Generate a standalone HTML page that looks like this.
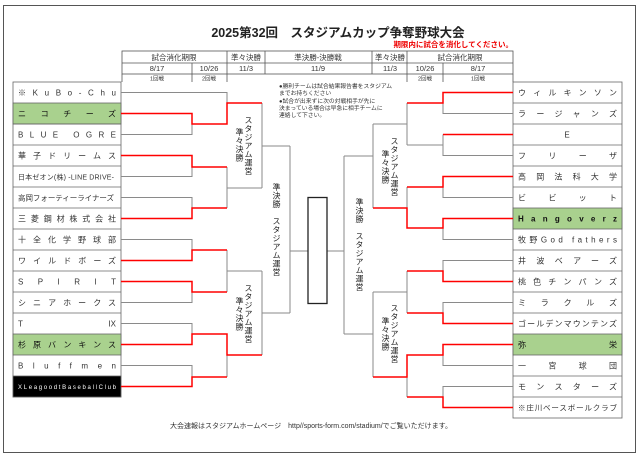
<!DOCTYPE html>
<html><head><meta charset="utf-8">
<style>
html,body{margin:0;padding:0;background:#fff;}
body{width:640px;height:458px;overflow:hidden;position:relative;font-family:"Liberation Sans","Noto Sans CJK JP",sans-serif;}
svg{position:absolute;left:0;top:0;}
.v{position:absolute;writing-mode:vertical-rl;font-size:8px;line-height:9px;color:#222;letter-spacing:0.5px;}
</style></head><body>
<svg width="640" height="458" viewBox="0 0 640 458" font-family="Liberation Sans, Noto Sans CJK JP, sans-serif">
<rect x="3.5" y="5.5" width="632" height="447" fill="none" stroke="#555" stroke-width="1"/>
<text x="338" y="37" font-size="12.5" font-weight="bold" text-anchor="middle" fill="#222">2025第32回　スタジアムカップ争奪野球大会</text>
<text x="513" y="47" font-size="7.5" font-weight="bold" text-anchor="end" fill="#e00">期限内に試合を消化してください。</text>
<g stroke="#555" stroke-width="0.8" fill="none">
<rect x="122" y="51" width="391" height="23"/>
<line x1="122" y1="63" x2="513" y2="63"/>
<line x1="122" y1="74" x2="122" y2="82"/><line x1="227" y1="74" x2="227" y2="82"/>
<line x1="407" y1="74" x2="407" y2="82"/><line x1="513" y1="74" x2="513" y2="82"/>
<line x1="227" y1="51" x2="227" y2="74"/><line x1="265" y1="51" x2="265" y2="74"/>
<line x1="372" y1="51" x2="372" y2="74"/><line x1="407" y1="51" x2="407" y2="74"/>
<line x1="192" y1="63" x2="192" y2="82"/><line x1="443" y1="63" x2="443" y2="82"/>
</g>
<g font-size="7.5" fill="#333" text-anchor="middle">
<text x="174" y="60">試合消化期限</text><text x="246" y="60">準々決勝</text><text x="318" y="60">準決勝-決勝戦</text><text x="390" y="60">準々決勝</text><text x="460" y="60">試合消化期限</text>
<text x="157" y="71">8/17</text><text x="209" y="71">10/26</text><text x="246" y="71">11/3</text><text x="318" y="71">11/9</text><text x="390" y="71">11/3</text><text x="425" y="71">10/26</text><text x="478" y="71">8/17</text>
</g>
<g font-size="5.5" fill="#333" text-anchor="middle">
<text x="157" y="80.5">1回戦</text><text x="209" y="80.5">2回戦</text><text x="425" y="80.5">2回戦</text><text x="478" y="80.5">1回戦</text>
</g>
<g font-size="5.8" fill="#333">
<text x="279" y="88">●勝利チームは試合結果報告書をスタジアム</text>
<text x="279" y="95">までお持ちください</text>
<text x="279" y="103">●試合が出来ずに次の対戦相手が先に</text>
<text x="279" y="110">決まっている場合は早急に相手チームに</text>
<text x="279" y="117">連絡して下さい。</text>
</g>
<g stroke="#666" stroke-width="0.8">
<rect x="13" y="82" width="108" height="315" fill="#fff"/>
<rect x="13" y="103" width="108" height="21" fill="#a9d18e"/>
<rect x="13" y="334" width="108" height="21" fill="#a9d18e"/>
<rect x="13" y="376" width="108" height="21" fill="#000"/>
<line x1="13" y1="124" x2="121" y2="124"/><line x1="13" y1="145" x2="121" y2="145"/><line x1="13" y1="166" x2="121" y2="166"/><line x1="13" y1="187" x2="121" y2="187"/><line x1="13" y1="208" x2="121" y2="208"/><line x1="13" y1="229" x2="121" y2="229"/><line x1="13" y1="250" x2="121" y2="250"/><line x1="13" y1="271" x2="121" y2="271"/><line x1="13" y1="292" x2="121" y2="292"/><line x1="13" y1="313" x2="121" y2="313"/>
</g>
<g stroke="#666" stroke-width="0.8">
<rect x="513" y="82" width="109" height="336" fill="#fff"/>
<rect x="513" y="208" width="109" height="21" fill="#a9d18e"/>
<rect x="513" y="334" width="109" height="21" fill="#a9d18e"/>
<line x1="513" y1="103" x2="622" y2="103"/><line x1="513" y1="124" x2="622" y2="124"/><line x1="513" y1="145" x2="622" y2="145"/><line x1="513" y1="166" x2="622" y2="166"/><line x1="513" y1="187" x2="622" y2="187"/><line x1="513" y1="250" x2="622" y2="250"/><line x1="513" y1="271" x2="622" y2="271"/><line x1="513" y1="292" x2="622" y2="292"/><line x1="513" y1="313" x2="622" y2="313"/><line x1="513" y1="376" x2="622" y2="376"/><line x1="513" y1="397" x2="622" y2="397"/>
</g>
<g font-size="8" fill="#333">
<text x="18" y="95.5" textLength="98" lengthAdjust="spacing">※KuBo-Chu</text>
<text x="18" y="116.5" textLength="98" lengthAdjust="spacing" fill="#111">ニコチーズ</text>
<text x="18" y="137.5" textLength="98" lengthAdjust="spacing">BLUE OGRE</text>
<text x="18" y="158.5" textLength="98" lengthAdjust="spacing">華子ドリームス</text>
<text x="18" y="179.5" font-size="7" textLength="96" lengthAdjust="spacing">日本ゼオン(株) -LINE DRIVE-</text>
<text x="18" y="200.5" font-size="7.5" textLength="96" lengthAdjust="spacing">高岡フォーティーライナーズ</text>
<text x="18" y="221.5" textLength="98" lengthAdjust="spacing">三菱鋼材株式会社</text>
<text x="18" y="242.5" textLength="98" lengthAdjust="spacing">十全化学野球部</text>
<text x="18" y="263.5" textLength="98" lengthAdjust="spacing">ワイルドボーズ</text>
<text x="18" y="284.5" textLength="98" lengthAdjust="spacing">SPIRIT</text>
<text x="18" y="305.5" textLength="98" lengthAdjust="spacing">シニアホークス</text>
<text x="18" y="326.5">T</text><text x="116" y="326.5" text-anchor="end">IX</text>
<text x="18" y="347.5" textLength="98" lengthAdjust="spacing" fill="#111">杉原バンキンス</text>
<text x="18" y="368.5" textLength="98" lengthAdjust="spacing">Bluffmen</text>
<text x="18" y="389" font-size="6" textLength="98" lengthAdjust="spacing" fill="#fff">XLeagoodtBaseballClub</text>
</g>
<g font-size="8" fill="#333">
<text x="518" y="95.5" textLength="99" lengthAdjust="spacing">ウィルキンソン</text>
<text x="518" y="116.5" textLength="99" lengthAdjust="spacing">ラージャンズ</text>
<text x="567" y="137.5" text-anchor="middle">E</text>
<text x="518" y="158.5" textLength="99" lengthAdjust="spacing">フリーザ</text>
<text x="518" y="179.5" textLength="99" lengthAdjust="spacing">高岡法科大学</text>
<text x="518" y="200.5" textLength="99" lengthAdjust="spacing">ビビット</text>
<text x="518" y="221.5" textLength="99" lengthAdjust="spacing" fill="#111" font-weight="bold">Hangoverz</text>
<text x="518" y="242.5" textLength="99" lengthAdjust="spacing">牧野God fathers</text>
<text x="518" y="263.5" textLength="99" lengthAdjust="spacing">井波ベアーズ</text>
<text x="518" y="284.5" textLength="99" lengthAdjust="spacing">桃色チンパンズ</text>
<text x="518" y="305.5" textLength="99" lengthAdjust="spacing">ミラクルズ</text>
<text x="518" y="326.5" textLength="99" lengthAdjust="spacing">ゴールデンマウンテンズ</text>
<text x="518" y="347.5" fill="#111">弥</text><text x="617" y="347.5" text-anchor="end" fill="#111">栄</text>
<text x="518" y="368.5" textLength="99" lengthAdjust="spacing">一宮球団</text>
<text x="518" y="389.5" textLength="99" lengthAdjust="spacing">モンスターズ</text>
<text x="518" y="410.5" font-size="7.5" textLength="99" lengthAdjust="spacing">※庄川ベースボールクラブ</text>
</g>
<g stroke="#8a8a8a" stroke-width="1" fill="none">
<polyline points="121,92.5 227,92.5 227,103"/>
<polyline points="121,134.5 192,134.5 192,124"/>
<polyline points="121,176.5 192,176.5 192,167"/>
<polyline points="121,197.5 192,197.5 192,208"/>
<polyline points="227,167 227,208"/><line x1="227" y1="188" x2="262" y2="188"/>
<polyline points="262,103 262,188"/><line x1="262" y1="146" x2="290" y2="146"/>
<polyline points="121,239.5 192,239.5 192,250"/>
<polyline points="121,302.5 192,302.5 192,292"/>
<polyline points="227,250 227,292"/><line x1="227" y1="271" x2="262" y2="271"/>
<polyline points="121,323.5 192,323.5 192,334"/>
<polyline points="121,365.5 192,365.5 192,377"/>
<polyline points="227,355 227,377"/>
<polyline points="262,271 262,355"/><line x1="262" y1="313" x2="290" y2="313"/>
<polyline points="290,146 290,313"/><line x1="290" y1="251" x2="308" y2="251"/>
<polyline points="513,113.5 443,113.5 443,103"/>
<polyline points="443,134.5 443,145"/>
<polyline points="513,155.5 443,155.5 443,145 407,145"/>
<polyline points="407,103 407,145"/><line x1="407" y1="124" x2="373" y2="124"/>
<polyline points="513,197.5 443,197.5 443,187"/>
<polyline points="513,239.5 443,239.5 443,228"/>
<polyline points="407,187 407,208"/>
<polyline points="373,124 373,208"/><line x1="373" y1="156" x2="344" y2="156"/>
<polyline points="513,260.5 443,260.5 443,271"/>
<polyline points="513,302.5 443,302.5 443,313"/>
<polyline points="407,271 407,313"/><line x1="407" y1="292" x2="373" y2="292"/>
<polyline points="513,365.5 443,365.5 443,355"/>
<polyline points="513,386.5 443,386.5 443,397"/>
<polyline points="407,377 407,397"/>
<polyline points="373,292 373,377"/><line x1="373" y1="334" x2="344" y2="334"/>
<polyline points="344,156 344,334"/><line x1="344" y1="251" x2="327" y2="251"/>
</g>
<g stroke="#f00" stroke-width="1.5" fill="none">
<polyline points="121,113.5 192,113.5 192,124 227,124 227,103 262,103"/>
<polyline points="121,155.5 192,155.5 192,167 227,167"/>
<polyline points="121,218.5 192,218.5 192,208 227,208"/>
<polyline points="121,260.5 192,260.5 192,250 227,250"/>
<polyline points="121,281.5 192,281.5 192,292 227,292"/>
<polyline points="121,344.5 192,344.5 192,334 227,334 227,355 262,355"/>
<polyline points="121,386.5 192,386.5 192,377 227,377"/>
<polyline points="513,92.5 443,92.5 443,103 407,103"/>
<polyline points="513,134.5 443,134.5"/>
<polyline points="513,176.5 443,176.5 443,187 407,187"/>
<polyline points="513,218.5 443,218.5 443,228 407,228 407,208 373,208"/>
<polyline points="513,281.5 443,281.5 443,271 407,271"/>
<polyline points="513,323.5 443,323.5 443,313 407,313"/>
<polyline points="513,344.5 443,344.5 443,355 407,355 407,377 373,377"/>
<polyline points="513,407.5 443,407.5 443,397 407,397"/>
</g>
<rect x="308" y="197.5" width="19" height="106" fill="#fff" stroke="#222" stroke-width="1.3"/>
<text x="311" y="428" font-size="7" text-anchor="middle" fill="#333">大会速報はスタジアムホームページ　http//sports-form.com/stadium/でご覧いただけます。</text>
</svg>
<div class="v" style="left:244px;top:116px;">スタジアム運営</div>
<div class="v" style="left:235px;top:128px;">準々決勝</div>
<div class="v" style="left:244px;top:284px;">スタジアム運営</div>
<div class="v" style="left:235px;top:297px;">準々決勝</div>
<div class="v" style="left:272px;top:183px;">準決勝　スタジアム運営</div>
<div class="v" style="left:355px;top:198px;">準決勝　スタジアム運営</div>
<div class="v" style="left:390px;top:137px;">スタジアム運営</div>
<div class="v" style="left:381px;top:150px;">準々決勝</div>
<div class="v" style="left:390px;top:304px;">スタジアム運営</div>
<div class="v" style="left:381px;top:317px;">準々決勝</div>
</body></html>
